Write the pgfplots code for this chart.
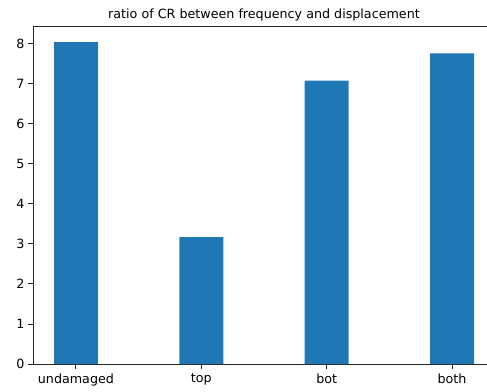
\documentclass[border=0pt]{standalone}
\usepackage{fontspec}
\setmainfont{DejaVu Sans}
\usepackage{pgfplots}
\pgfplotsset{compat=1.18}
\definecolor{barblue}{HTML}{1F77B4}
\begin{document}
\begin{tikzpicture}
\begin{axis}[
  name=ax,
  at={(0,0)}, anchor=south west,
  scale only axis,
  width=462pt, height=338pt,
  xmin=-0.3425, xmax=3.3425,
  ymin=0, ymax=8.442,
  ybar, bar width=0.35,
  xtick={0,1,2,3},
  xticklabels={undamaged,top,bot,both},
  ytick={0,1,2,3,4,5,6,7,8},
  tick align=outside,
  xtick pos=bottom, ytick pos=left,
  major tick length=4.9pt,
  every tick/.style={black!85, line width=0.9pt},
  axis line style={black!85, line width=0.9pt},
  axis y line*=left,
  axis x line*=box,
  /pgf/number format/assume math mode=true,
  tick label style={font=\fontsize{12.7}{15}\selectfont},
  xticklabel style={yshift=-1.5pt},
  title={ratio of CR between frequency and displacement},
  title style={font=\fontsize{12.7}{15}\selectfont, at={(0.5,1)}, anchor=base, yshift=2pt},
]
\addplot[fill=barblue, draw=none] coordinates {(0,8.04) (1,3.17) (2,7.08) (3,7.76)};
\end{axis}
\pgfresetboundingbox
\path[use as bounding box] (-33pt,-27pt) rectangle (454pt,364pt);
\end{tikzpicture}
\end{document}
